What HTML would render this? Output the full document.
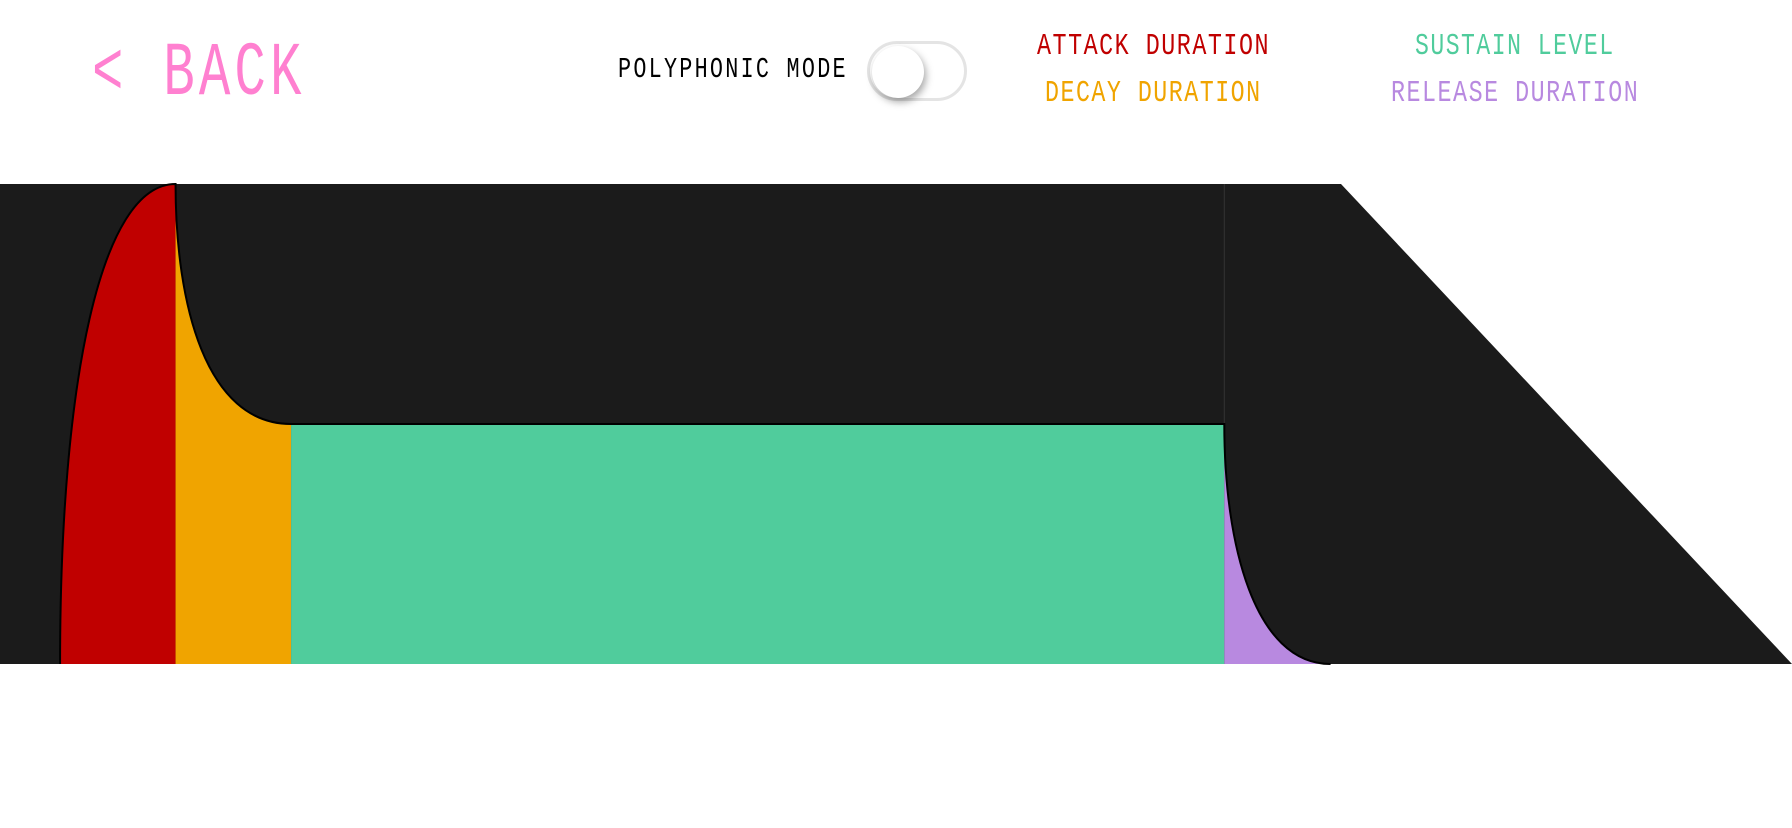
<!DOCTYPE html>
<html><head><meta charset="utf-8">
<style>
html,body{margin:0;padding:0;background:#fff;width:1792px;height:828px;overflow:hidden;}
.t{position:absolute;font-family:"Liberation Mono","DejaVu Sans Mono",monospace;white-space:nowrap;line-height:1;letter-spacing:2px;transform-origin:0 0;}
</style></head><body>
<div class="t" style="left:92px;top:36px;font-size:76px;color:#ff80d0;transform:scaleX(0.69);letter-spacing:6px;">&lt; BACK</div>
<div class="t" style="left:618px;top:55px;font-size:29px;color:#000;transform:scaleX(0.751);letter-spacing:3px;">POLYPHONIC MODE</div>
<div style="position:absolute;left:867px;top:41px;width:100px;height:60px;border:3px solid #e4e4e4;border-radius:32px;box-sizing:border-box;background:#fff;">
  <div style="position:absolute;left:2px;top:2px;width:52px;height:52px;border-radius:50%;background:#fff;box-shadow:2px 4px 8px rgba(0,0,0,0.35);"></div>
</div>
<div class="t" style="left:1037px;top:31px;font-size:31px;color:#c00000;transform:scaleX(0.754);">ATTACK DURATION</div>
<div class="t" style="left:1045px;top:78px;font-size:31px;color:#f0a400;transform:scaleX(0.751);">DECAY DURATION</div>
<div class="t" style="left:1415px;top:31px;font-size:31px;color:#50cc9c;transform:scaleX(0.745);">SUSTAIN LEVEL</div>
<div class="t" style="left:1391px;top:78px;font-size:31px;color:#b889e0;transform:scaleX(0.753);">RELEASE DURATION</div>

<svg id="chart" style="position:absolute;left:0;top:0" width="1792" height="828"></svg>
<script>
const startOffset = 0.52;
const attackDuration = 1.0;
const decayDuration = 1.0;
const sustainLength = 8.08;
const releaseDuration = 0.92;
const sustainLevel = 0.5;

const NS = "http://www.w3.org/2000/svg";
const svg = document.getElementById('chart');
const top0 = 184, bot = 664, pxPerUnit = 115.5;
const x = t => t * pxPerUnit;
const y = v => bot - v * (bot - top0);
function mk(tag, attrs){const e=document.createElementNS(NS,tag);for(const k in attrs)e.setAttribute(k,attrs[k]);svg.appendChild(e);return e;}

const bg = mk('polygon',{points:`0,${top0} 1341,${top0} 1792,${bot} 0,${bot}`,fill:'#1b1b1b'});



const x0 = x(startOffset), x1 = x(startOffset+attackDuration), x2 = x(startOffset+attackDuration+decayDuration);
const x3 = x(startOffset+attackDuration+decayDuration+sustainLength), x4 = x(startOffset+attackDuration+decayDuration+sustainLength+releaseDuration);
const ys = y(sustainLevel), yt = y(1), yb = y(0);

const a = mk('path',{d:`M${x0},${yb} C${x0},${yt+200} ${x0+40},${yt} ${x1},${yt} L${x1},${yb} Z`,fill:'#c00000'});


const d = mk('path',{d:`M${x1},${yt} C${x1},${ys-120} ${x1+30},${ys} ${x2},${ys} L${x2},${yb} L${x1},${yb} Z`,fill:'#f0a400'});


const s = mk('rect',{x:x2,y:ys,width:x3-x2,height:yb-ys,fill:'#50cc9c'});


const r = mk('path',{d:`M${x3},${ys} C${x3},${yb-120} ${x3+30},${yb} ${x4},${yb} L${x3},${yb} Z`,fill:'#b889e0'});


const sep = mk('line',{x1:x3,y1:yt,x2:x3,y2:ys,stroke:'#333',"stroke-width":1});


const outline = mk('path',{d:`M${x0},${yb} C${x0},${yt+200} ${x0+40},${yt} ${x1},${yt} C${x1},${ys-120} ${x1+30},${ys} ${x2},${ys} L${x3},${ys} C${x3},${yb-120} ${x3+30},${yb} ${x4},${yb}`,fill:'none',stroke:'#000',"stroke-width":2});


</script>
</body></html>
